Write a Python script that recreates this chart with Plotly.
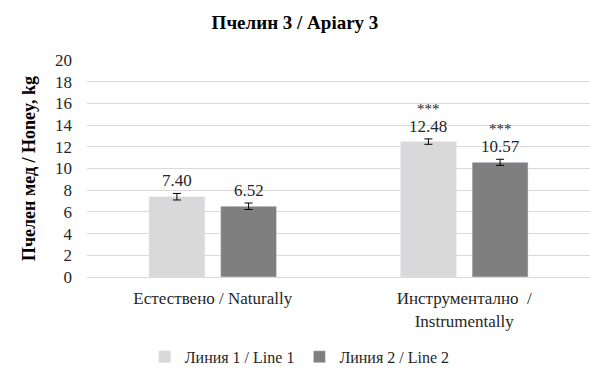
import plotly.graph_objects as go

# Honey yield per hive, apiary 3
categories = ["Естествено / Naturally", "Инструментално  /<br>Instrumentally"]
series_names = ["Линия 1 / Line 1", "Линия 2 / Line 2"]
line1 = [7.40, 12.48]
line2 = [6.52, 10.57]
line1_err = [0.30, 0.25]
line2_err = [0.30, 0.28]
line1_sig = ["", "***"]
line2_sig = ["", "***"]
y_ticks = [0, 2, 4, 6, 8, 10, 12, 14, 16, 18, 20]

colors = ["#d9d9d9", "#7f7f7f"]
serif = "Times New Roman, Liberation Serif, serif"

fig = go.Figure()
for name, vals, errs, col in zip(series_names, [line1, line2], [line1_err, line2_err], colors):
    fig.add_trace(go.Bar(
        name=name, x=categories, y=vals, marker_color=col,
        error_y=dict(type="data", array=errs, visible=True, color="#000000",
                     thickness=1, width=4),
    ))

# value labels and significance marks above each bar
offsets = [-0.143, 0.143]
for k, (vals, errs, sig) in enumerate(zip([line1, line2], [line1_err, line2_err], [line1_sig, line2_sig])):
    for i, (v, e, s) in enumerate(zip(vals, errs, sig)):
        fig.add_annotation(
            x=i + offsets[k], y=v + e, xref="x", yref="y", text=f"{v:.2f}",
            showarrow=False, yanchor="bottom", yshift=1,
            font=dict(family=serif, size=17, color="#262626"),
        )
        if s:
            fig.add_annotation(
                x=i + offsets[k], y=v + e, xref="x", yref="y", text=s,
                showarrow=False, yanchor="bottom", yshift=20,
                font=dict(family=serif, size=15, color="#262626"),
            )

fig.update_layout(
    width=590, height=369,
    margin=dict(l=87, r=0, t=60, b=92),
    paper_bgcolor="white", plot_bgcolor="white",
    barmode="group", bargap=0.43, bargroupgap=0.22,
    title=dict(text="<b>Пчелин 3 / Apiary 3</b>", x=0.5, xanchor="center",
               y=0.94, yanchor="middle",
               font=dict(family=serif, size=19, color="#000000")),
    font=dict(family=serif, color="#262626"),
    showlegend=True,
    legend=dict(orientation="h", xref="container", yref="container",
                x=0.508, xanchor="center", y=0.033, yanchor="middle",
                font=dict(family=serif, size=16, color="#262626"),
                itemwidth=30, traceorder="normal"),
)
fig.update_xaxes(
    type="category", showgrid=False, showline=True, linecolor="#d9d9d9",
    ticks="", automargin=False, ticklabelstandoff=6,
    tickfont=dict(family=serif, size=17, color="#262626"),
)
fig.update_yaxes(
    range=[0, 20], tickvals=y_ticks, showgrid=True, gridcolor="#d9d9d9",
    zeroline=False, ticks="", automargin=False, ticklabelstandoff=14,
    tickfont=dict(family=serif, size=17, color="#262626"),
    title=dict(text="<b>Пчелен мед / Honey, kg</b>", standoff=14,
               font=dict(family=serif, size=18, color="#000000")),
)

fig.write_html("out.html")
